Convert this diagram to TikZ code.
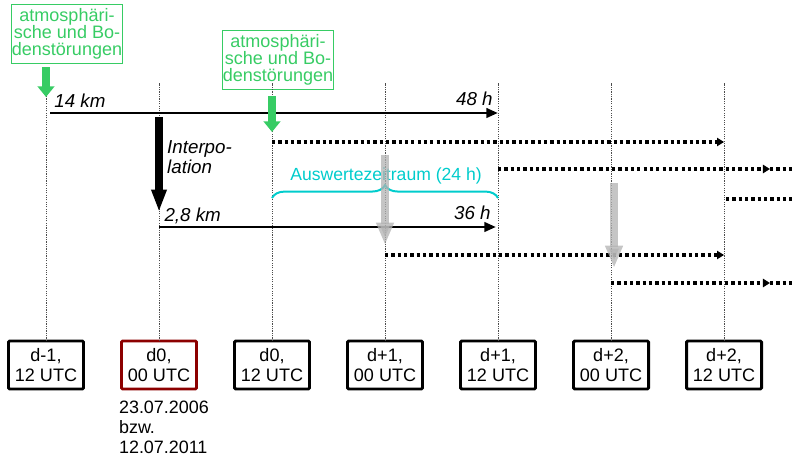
\documentclass[tikz,border=0pt]{standalone}
\usepackage{fontspec}
\setmainfont{Liberation Sans}
\usepackage{xcolor}
\usepackage{tikz}
\usetikzlibrary{arrows.meta, positioning, decorations.pathreplacing}
\definecolor{stoergruen}{RGB}{55,204,100}
\definecolor{auswertecyan}{RGB}{0,204,204}
\definecolor{dunkelrot}{RGB}{140,0,0}
\tikzstyle{tbox} = [rectangle, rounded corners=1pt, draw=black, line width=2.5pt, minimum width=2.25cm, minimum height=1.44cm, inner sep=0pt, outer sep=0pt, align=center, font=\fontsize{15.4}{16.5}\selectfont]
\tikzstyle{gbox} = [rectangle, draw=stoergruen, line width=0.8pt, text=stoergruen, minimum width=3.21cm, minimum height=1.77cm, inner sep=0pt, align=center, font=\fontsize{15.4}{14.4}\selectfont]
\tikzstyle{lbl} = [inner sep=0pt, font=\fontsize{16}{17}\selectfont\itshape]
\tikzstyle{datefont} = [inner sep=0pt, align=left, font=\fontsize{15.3}{17}\selectfont]
\tikzstyle{vline} = [draw=gray!60!black, line width=0.6pt, dash pattern=on 1pt off 1pt]
\tikzstyle{run} = [line width=2.5pt, -{Triangle[length=10pt,width=8pt]}]
\tikzstyle{dotrun} = [line width=2.8pt, dash pattern=on 2.8pt off 2.6pt]
\tikzstyle{dottip} = [dotrun, -{Triangle[length=6pt,width=7pt]}]
\tikzstyle{fatgreen} = [draw=stoergruen, line width=7pt, -{Triangle[length=9pt,width=14pt]}]
\tikzstyle{fatblack} = [draw=black, line width=7pt, -{Triangle[length=19pt,width=12pt]}]
\tikzstyle{fatgray} = [draw=black!30, opacity=0.75, line width=7pt, -{Triangle[length=19pt,width=14pt]}]
\tikzstyle{klammer} = [draw=auswertecyan, line width=1.7pt, decorate, decoration={brace, amplitude=11pt}]

\begin{document}
\begin{tikzpicture}[x=0.03cm, y=-0.03cm]
        \useasboundingbox (0,0) rectangle (792,459);

        % Nodes
        \node (dm1) [tbox] at (46,365) {d-1,\\12 UTC};
        \node (d0a) [tbox, draw=dunkelrot, right=1.14cm of dm1] {d0,\\00 UTC};
        \node (d0b) [tbox, right=1.14cm of d0a] {d0,\\12 UTC};
        \node (d1a) [tbox, right=1.14cm of d0b] {d+1,\\00 UTC};
        \node (d1b) [tbox, right=1.14cm of d1a] {d+1,\\12 UTC};
        \node (d2a) [tbox, right=1.14cm of d1b] {d+2,\\00 UTC};
        \node (d2b) [tbox, right=1.14cm of d2a] {d+2,\\12 UTC};
        \node (datum) [datefont, below right=0.36cm and -0.08cm of d0a.south west] {23.07.2006\\bzw.\\12.07.2011};

        \node (stoer1) [gbox] at (67,34) {atmosphäri-\\sche und Bo-\\denstörungen};
        \node (stoer2) [gbox] at (278,59.5) {atmosphäri-\\sche und Bo-\\denstörungen};

        % Levels
        \coordinate (oben) at (0,83);
        \coordinate (lv14) at (0,113);
        \coordinate (lvP1) at (0,142);
        \coordinate (lvP2) at (0,169);
        \coordinate (lvP3) at (0,199);
        \coordinate (lvK) at (0,198);
        \coordinate (lv28) at (0,227);
        \coordinate (lvP4) at (0,255);
        \coordinate (lvP5) at (0,283);
        \coordinate (mitte) at (770,0);
        \coordinate (rand) at (792,0);

        % Timelines
        \draw [vline] (dm1.north) -- (dm1.north |- oben);
        \draw [vline] (d0a.north) -- (d0a.north |- oben);
        \draw [vline] (d0b.north) -- (d0b.north |- oben);
        \draw [vline] (d1a.north) -- (d1a.north |- oben);
        \draw [vline] (d1b.north) -- (d1b.north |- oben);
        \draw [vline] (d2a.north) -- (d2a.north |- oben);
        \draw [vline] (d2b.north) -- (d2b.north |- oben);

        % Model runs
        \draw [run] ([xshift=0.12cm]dm1.north |- lv14) -- (d1b.north |- lv14)
            node [lbl, pos=0, anchor=base west, xshift=2.5pt, yshift=4.3pt] (km14) {14 km}
            node [lbl, pos=1, anchor=base east, xshift=-3.4pt, yshift=6.8pt] (h48) {48 h};
        \draw [run] (d0a.north |- lv28) -- ([xshift=-0.06cm]d1b.north |- lv28)
            node [lbl, pos=0, anchor=base west, xshift=3.5pt, yshift=4.3pt] (km28) {2,8 km}
            node [lbl, pos=1, anchor=base east, xshift=-3.4pt, yshift=6pt] (h36) {36 h};

        \draw [dottip] (d0b.north |- lvP1) -- (d2b.north |- lvP1);
        \draw [dottip] (d1b.north |- lvP2) -- (mitte |- lvP2);
        \draw [dotrun] (mitte |- lvP2) -- (rand |- lvP2);
        \draw [dotrun] ([xshift=0.06cm]d2b.north |- lvP3) -- (rand |- lvP3);
        \draw [dottip] (d1a.north |- lvP4) -- (d2b.north |- lvP4);
        \draw [dottip] (d2a.north |- lvP5) -- (mitte |- lvP5);
        \draw [dotrun] (mitte |- lvP5) -- (rand |- lvP5);

        % Interpolation
        \draw [fatblack] ([yshift=-0.12cm]d0a.north |- lv14) -- ([yshift=0.45cm]d0a.north |- lv28);
        \node (interp) [lbl, align=left, anchor=north west] at (167,140) {Interpo-\\lation};

        % Disturbances
        \draw [fatgreen] ([yshift=-0.1cm]stoer1.south -| dm1.north) -- ([yshift=0.48cm]dm1.north |- lv14);
        \draw [fatgreen] ([yshift=-0.2cm]stoer2.south -| d0b.north) -- ([yshift=0.3cm]d0b.north |- lvP1);

        % Evaluation period
        \draw [klammer] (d0b.north |- lvK) -- (d1b.north |- lvK);
        \node (auswert) [text=auswertecyan, inner sep=0pt, font=\fontsize{15}{17}\selectfont] at (386,176) {Auswertezeitraum (24 h)};

        % Next runs
        \draw [fatgray] ([yshift=0.42cm]d1a.north |- lvP2) -- ([yshift=-0.54cm]d1a.north |- lv28);
        \draw [fatgray] ([xshift=0.09cm, yshift=0.48cm]d2a.north |- lvP3) -- ([xshift=0.09cm, yshift=-0.39cm]d2a.north |- lvP4);
    \end{tikzpicture}
\end{document}
